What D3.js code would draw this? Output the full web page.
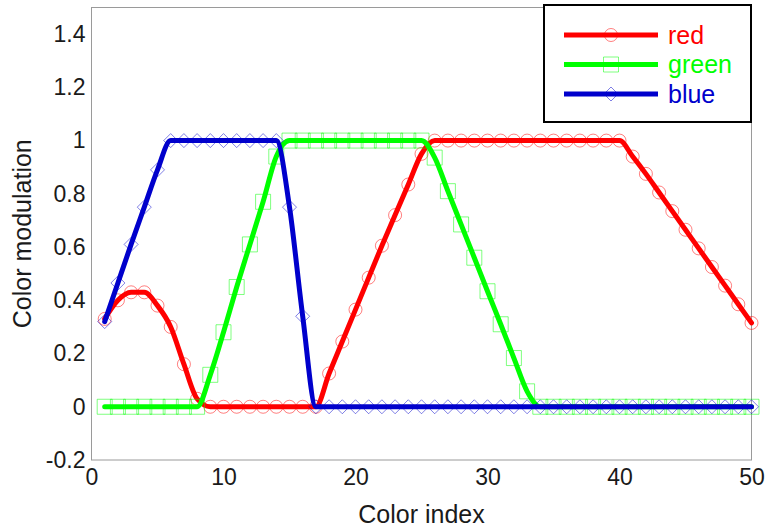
<!DOCTYPE html>
<html>
<head>
<meta charset="utf-8">
<script src="https://cdn.jsdelivr.net/npm/d3@7"></script>
<style>
  body { margin: 0; background: #fff; }
  svg { display: block; }
</style>
</head>
<body>
<svg id="chart" width="767" height="527"></svg>
<script>
// color index 1..50
const colorIndex = d3.range(1, 51);

const redValues = [
  0.33, 0.40, 0.43, 0.43, 0.38, 0.30, 0.16, 0.03,
  0, 0, 0, 0, 0, 0, 0, 0, 0,
  0.125, 0.245, 0.365, 0.485, 0.605, 0.72, 0.835, 0.95,
  1, 1, 1, 1, 1, 1, 1, 1, 1, 1, 1, 1, 1, 1, 1,
  0.94, 0.875, 0.805, 0.735, 0.665, 0.595, 0.525, 0.455, 0.385, 0.315
];

const greenValues = [
  0, 0, 0, 0, 0, 0, 0, 0,
  0.12, 0.28, 0.45, 0.61, 0.77, 0.94,
  1, 1, 1, 1, 1, 1, 1, 1, 1, 1, 1,
  0.936, 0.81, 0.685, 0.56, 0.434, 0.31, 0.183, 0.058,
  0, 0, 0, 0, 0, 0, 0, 0, 0, 0, 0, 0, 0, 0, 0, 0, 0
];

const blueValues = [
  0.32, 0.465, 0.61, 0.75, 0.89,
  1, 1, 1, 1, 1, 1, 1, 1, 1,
  0.75, 0.34,
  0, 0, 0, 0, 0, 0, 0, 0, 0, 0, 0, 0, 0, 0, 0, 0, 0,
  0, 0, 0, 0, 0, 0, 0, 0, 0, 0, 0, 0, 0, 0, 0, 0, 0
];

const seriesNames = ['red', 'green', 'blue'];
const seriesColors = ['#ff0000', '#00ff00', '#0000cc'];
const seriesMarkers = ['circle', 'square', 'diamond'];

const xTicks = [0, 10, 20, 30, 40, 50];
const yTicks = [-0.2, 0, 0.2, 0.4, 0.6, 0.8, 1, 1.2, 1.4];

const series = [
  { name: seriesNames[0], color: seriesColors[0], marker: seriesMarkers[0], values: redValues },
  { name: seriesNames[1], color: seriesColors[1], marker: seriesMarkers[1], values: greenValues },
  { name: seriesNames[2], color: seriesColors[2], marker: seriesMarkers[2], values: blueValues }
];

const svg = d3.select('#chart');
const font = 'Liberation Sans, Arial, Helvetica, sans-serif';

const x = d3.scaleLinear().domain([0, 50]).range([91.5, 751.5]);
const y = d3.scaleLinear().domain([-0.2, 1.5]).range([460, 7.5]);

// axes box
svg.append('rect')
  .attr('x', x(0))
  .attr('y', y(1.5))
  .attr('width', x(50) - x(0))
  .attr('height', y(-0.2) - y(1.5))
  .attr('fill', 'none')
  .attr('stroke', '#9a9a9a')
  .attr('stroke-width', 1);

const fmt = d => String(+d.toFixed(1));

const xAxis = svg.append('g')
  .attr('transform', `translate(0, ${y(-0.2)})`)
  .call(d3.axisBottom(x).tickValues(xTicks).tickSize(0).tickPadding(9).tickFormat(fmt));

const yAxis = svg.append('g')
  .attr('transform', `translate(${x(0)}, 0)`)
  .call(d3.axisLeft(y).tickValues(yTicks).tickSize(0).tickPadding(6).tickFormat(fmt));

[xAxis, yAxis].forEach(a => {
  a.select('.domain').remove();
  a.selectAll('text')
    .attr('font-family', font)
    .attr('font-size', '23px')
    .attr('fill', '#1a1a1a');
});

// axis titles
svg.append('text')
  .attr('x', (x(0) + x(50)) / 2)
  .attr('y', 523)
  .attr('text-anchor', 'middle')
  .attr('font-family', font)
  .attr('font-size', '25px')
  .attr('fill', '#1a1a1a')
  .text('Color index');

svg.append('text')
  .attr('transform', `translate(31, ${(y(-0.2) + y(1.5)) / 2}) rotate(-90)`)
  .attr('text-anchor', 'middle')
  .attr('font-family', font)
  .attr('font-size', '25px')
  .attr('fill', '#1a1a1a')
  .text('Color modulation');

const line = d3.line()
  .x((d, i) => x(colorIndex[i]))
  .y(d => y(d))
  .curve(d3.curveMonotoneX);

const markerPath = (type) => {
  if (type === 'circle') return d3.symbol().type(d3.symbolCircle).size(Math.PI * 6.5 * 6.5)();
  if (type === 'square') return 'M-7.5,-7.5H7.5V7.5H-7.5Z';
  return 'M0,-7L7,0L0,7L-7,0Z';
};

const gSeries = svg.selectAll('.series')
  .data(series)
  .join('g')
  .attr('class', 'series');

gSeries.append('path')
  .attr('d', d => line(d.values))
  .attr('fill', 'none')
  .attr('stroke', d => d.color)
  .attr('stroke-width', 5)
  .attr('stroke-linejoin', 'round')
  .attr('stroke-linecap', 'round');

gSeries.each(function(s) {
  d3.select(this).selectAll('.marker')
    .data(s.values)
    .join('path')
    .attr('class', 'marker')
    .attr('transform', (d, i) => `translate(${x(colorIndex[i])}, ${y(d)})`)
    .attr('d', markerPath(s.marker))
    .attr('fill', 'none')
    .attr('stroke', s.color)
    .attr('stroke-opacity', 0.5)
    .attr('stroke-width', 1);
});

// legend
const legend = svg.append('g');

legend.append('rect')
  .attr('x', 544)
  .attr('y', 5)
  .attr('width', 207)
  .attr('height', 117)
  .attr('fill', '#fff')
  .attr('stroke', '#000')
  .attr('stroke-width', 2);

const entries = legend.selectAll('.gLegend')
  .data(series)
  .join('g')
  .attr('class', 'gLegend')
  .attr('transform', (d, i) => `translate(0, ${35 + i * 29.5})`);

entries.append('line')
  .attr('x1', 564)
  .attr('x2', 658)
  .attr('stroke', d => d.color)
  .attr('stroke-width', 5);

entries.append('path')
  .attr('transform', 'translate(611, 0)')
  .attr('d', d => markerPath(d.marker))
  .attr('fill', 'none')
  .attr('stroke', d => d.color)
  .attr('stroke-opacity', 0.5)
  .attr('stroke-width', 1);

entries.append('text')
  .attr('x', 668)
  .attr('dy', '0.35em')
  .attr('font-family', font)
  .attr('font-size', '25px')
  .attr('fill', d => d.color)
  .text(d => d.name);
</script>
</body>
</html>
